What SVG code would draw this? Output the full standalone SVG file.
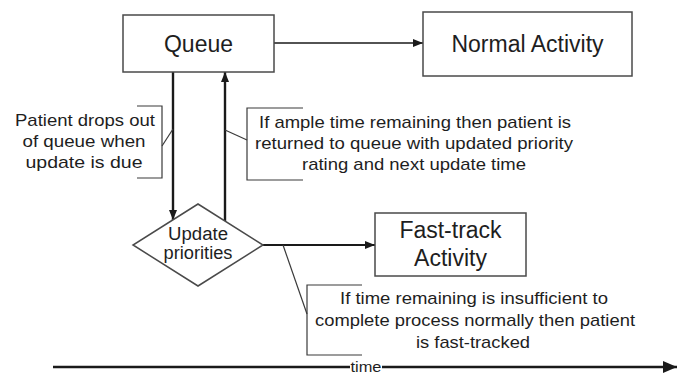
<svg xmlns="http://www.w3.org/2000/svg" width="686" height="376" viewBox="0 0 686 376">
  <defs>
    <marker id="arr" markerUnits="userSpaceOnUse" markerWidth="10" markerHeight="8" refX="10" refY="4" orient="auto">
      <path d="M0,0 L10,4 L0,8 z" fill="#1a1a1a"/>
    </marker>
    <marker id="arrBig" markerUnits="userSpaceOnUse" markerWidth="14" markerHeight="12" refX="14" refY="6" orient="auto">
      <path d="M0,0 L14,6 L0,12 z" fill="#1a1a1a"/>
    </marker>
    <style>
      .box { fill: #ffffff; stroke: #4a4a4a; stroke-width: 1.5; }
      .lbl { font-family: "Liberation Sans", Arial, sans-serif; fill: #1e1e1e; text-anchor: middle; }
      .big { font-size: 23px; }
      .mid { font-size: 18px; }
      .note { font-size: 17px; }
      .small { font-size: 15px; }
      .flow { fill: none; stroke: #1a1a1a; }
      .bracket { fill: none; stroke: #3a3a3a; stroke-width: 1.2; }
    </style>
  </defs>
  <rect width="686" height="376" fill="#ffffff"/>

  <!-- connectors -->
  <g id="connectors">
    <line class="flow" x1="274" y1="43" x2="423" y2="43" stroke-width="1.4" marker-end="url(#arr)"/>
    <line class="flow" x1="173" y1="72" x2="173" y2="220" stroke-width="2.4" marker-end="url(#arr)"/>
    <line class="flow" x1="225" y1="221" x2="225" y2="72" stroke-width="2.4" marker-end="url(#arr)"/>
    <line class="flow" x1="262" y1="245" x2="375" y2="245" stroke-width="2" marker-end="url(#arr)"/>
    <!-- timeline -->
    <line class="flow" x1="53" y1="367" x2="350" y2="367" stroke-width="2.6"/>
    <line class="flow" x1="382" y1="367" x2="677" y2="367" stroke-width="2.6" marker-end="url(#arrBig)"/>
  </g>

  <!-- nodes -->
  <g id="queue">
    <rect class="box" x="123" y="15" width="151" height="57"/>
    <text class="lbl big" x="198.5" y="52">Queue</text>
  </g>
  <g id="normal-activity">
    <rect class="box" x="423" y="12" width="209" height="64"/>
    <text class="lbl big" x="527.5" y="52">Normal Activity</text>
  </g>
  <g id="update-priorities">
    <polygon class="box" points="198,204 263,245 198,286 133,245"/>
    <text class="lbl mid" x="198" y="240" textLength="60" lengthAdjust="spacingAndGlyphs">Update</text>
    <text class="lbl mid" x="198" y="259" textLength="69" lengthAdjust="spacingAndGlyphs">priorities</text>
  </g>
  <g id="fast-track-activity">
    <rect class="box" x="375" y="213" width="151" height="63"/>
    <text class="lbl big" x="450.5" y="238">Fast-track</text>
    <text class="lbl big" x="450.5" y="266">Activity</text>
  </g>

  <!-- annotations -->
  <g id="note-drop-out">
    <path class="bracket" d="M137,106 H162 V178 H137"/>
    <line class="bracket" x1="162" y1="146" x2="173" y2="129"/>
    <text class="lbl note" x="85" y="126" textLength="140" lengthAdjust="spacingAndGlyphs">Patient drops out</text>
    <text class="lbl note" x="84" y="147" textLength="123" lengthAdjust="spacingAndGlyphs">of queue when</text>
    <text class="lbl note" x="84" y="168" textLength="117" lengthAdjust="spacingAndGlyphs">update is due</text>
  </g>
  <g id="note-returned">
    <path class="bracket" d="M303,108 H247 V180 H303"/>
    <line class="bracket" x1="247" y1="140" x2="225" y2="130"/>
    <text class="lbl note" x="415" y="128" textLength="312" lengthAdjust="spacingAndGlyphs">If ample time remaining then patient is</text>
    <text class="lbl note" x="414" y="149" textLength="318" lengthAdjust="spacingAndGlyphs">returned to queue with updated priority</text>
    <text class="lbl note" x="414" y="170" textLength="224" lengthAdjust="spacingAndGlyphs">rating and next update time</text>
  </g>
  <g id="note-fast-tracked">
    <path class="bracket" d="M362,285 H307 V355 H362"/>
    <line class="bracket" x1="307" y1="314" x2="283" y2="245"/>
    <text class="lbl note" x="474" y="304" textLength="268" lengthAdjust="spacingAndGlyphs">If time remaining is insufficient to</text>
    <text class="lbl note" x="475" y="326" textLength="320" lengthAdjust="spacingAndGlyphs">complete process normally then patient</text>
    <text class="lbl note" x="473" y="348" textLength="114" lengthAdjust="spacingAndGlyphs">is fast-tracked</text>
  </g>
  <text class="lbl small" x="366" y="372" textLength="31" lengthAdjust="spacingAndGlyphs">time</text>
</svg>
